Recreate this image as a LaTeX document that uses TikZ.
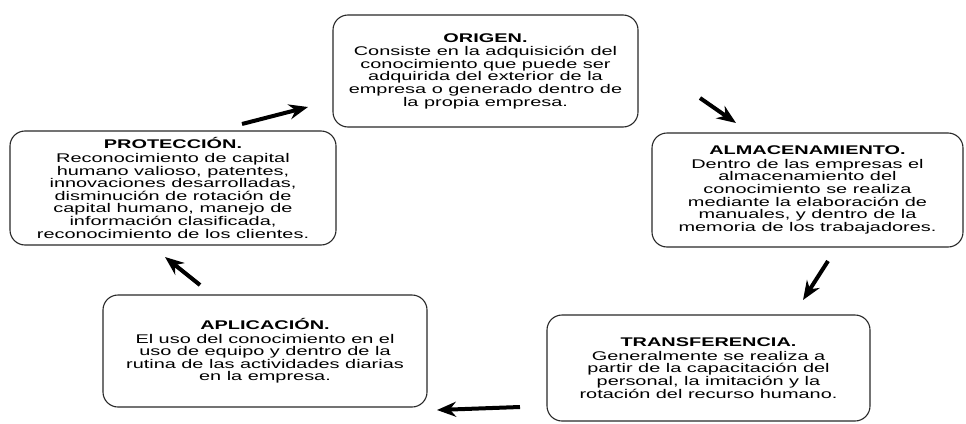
\documentclass[tikz,border=0pt]{standalone}
\usepackage{fontspec}
\usepackage{tikz}
\usetikzlibrary{
  arrows.meta,
  positioning
}
\newfontfamily\cyclefont{Liberation Sans}[FakeStretch=1.58]
\definecolor{edgegray}{RGB}{40,40,40}
\tikzset{
  stagebox/.style={draw=edgegray, line width=1.1pt, rounded corners=15pt,
        align=center, inner sep=2pt,
        font=\cyclefont\fontsize{12.6}{12.6}\selectfont},
  cyclearrow/.style={-{Stealth[length=19pt, width=15pt]}, line width=4pt, black}
}

\begin{document}
\begin{tikzpicture}[x=1pt, y=-1pt]
  \useasboundingbox (0,0) rectangle (966,423);
  % Origen
  \node[stagebox, minimum width=305pt, minimum height=112pt] (origen)
        at (485.5,71) {\textbf{ORIGEN.}\\[1pt]
        Consiste en la adquisición del\\
        conocimiento que puede ser\\
        adquirida del exterior de la\\
        empresa o generado dentro de\\
        la propia empresa.};
  % Almacenamiento
  \node[stagebox, minimum width=311pt, minimum height=114pt] (almac)
        at (807.5,190) {\textbf{ALMACENAMIENTO.}\\[1pt]
        Dentro de las empresas el\\
        almacenamiento del\\
        conocimiento se realiza\\
        mediante la elaboración de\\
        manuales, y dentro de la\\
        memoria de los trabajadores.};
  % Transferencia
  \node[stagebox, minimum width=323pt, minimum height=106pt] (transf)
        at (708.5,368) {\textbf{TRANSFERENCIA.}\\[1pt]
        Generalmente se realiza a\\
        partir de la capacitación del\\
        personal, la imitación y la\\
        rotación del recurso humano.};
  % Aplicacion
  \node[stagebox, minimum width=324pt, minimum height=112pt] (aplic)
        at (265,351) {\textbf{APLICACIÓN.}\\[1pt]
        El uso del conocimiento en el\\
        uso de equipo y dentro de la\\
        rutina de las actividades diarias\\
        en la empresa.};
  % Proteccion
  \node[stagebox, minimum width=326pt, minimum height=114pt] (protec)
        at (173,188) {\textbf{PROTECCIÓN.}\\[1pt]
        Reconocimiento de capital\\
        humano valioso, patentes,\\
        innovaciones desarrolladas,\\
        disminución de rotación de\\
        capital humano, manejo de\\
        información clasificada,\\
        reconocimiento de los clientes.};
  % Arrow ends
  \coordinate (protec-out) at (242,124);
  \coordinate (origen-in) at (308,107);
  \coordinate (origen-out) at (700,98);
  \coordinate (almac-in) at (736,123);
  \coordinate (almac-out) at (828,261);
  \coordinate (transf-in) at (803,300);
  \coordinate (transf-out) at (520,407);
  \coordinate (aplic-in) at (437,410);
  \coordinate (aplic-out) at (200,285);
  \coordinate (protec-in) at (165,257);
  % Arrows
  \draw[cyclearrow] (protec-out) -- (origen-in);
  \draw[cyclearrow] (origen-out) -- (almac-in);
  \draw[cyclearrow] (almac-out) -- (transf-in);
  \draw[cyclearrow] (transf-out) -- (aplic-in);
  \draw[cyclearrow] (aplic-out) -- (protec-in);
\end{tikzpicture}
\end{document}
